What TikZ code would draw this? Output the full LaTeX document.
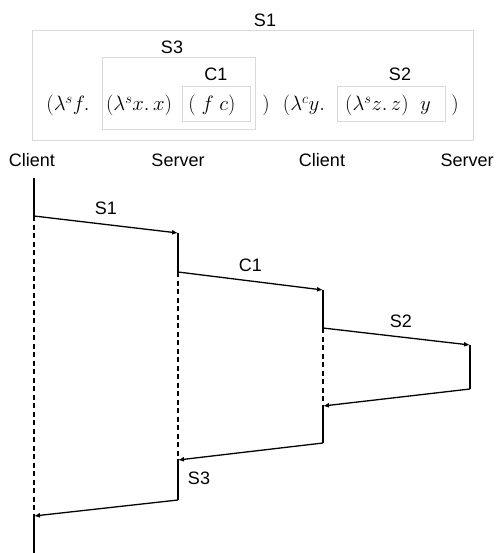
\documentclass[tikz,border=0pt]{standalone}
\usepackage{amsmath}
\usepackage{fontspec}
\setsansfont{Liberation Sans}
\usetikzlibrary{arrows.meta,positioning}
\definecolor{boxgray}{RGB}{217,217,217}

\begin{document}
\begin{tikzpicture}[x=1pt,y=-1pt,
    lbl/.style={font=\sffamily\fontsize{18}{20}\selectfont, inner sep=0pt},
    expr/.style={font=\fontsize{22}{24}\selectfont, inner sep=0pt, anchor=base},
    frame/.style={draw=boxgray, line width=1pt, inner sep=0pt},
    msg/.style={line width=1.3pt, -{Latex[length=6pt,width=5pt]}},
    life/.style={line width=1.3pt},
    wait/.style={line width=1.3pt, dash pattern=on 5pt off 3.5pt}]
    \useasboundingbox (0,0) rectangle (498,553);
    % term with its boxes
    \node[frame, minimum width=441pt, minimum height=110pt] (boxS1) at (252.5,86) {};
    \node[frame, minimum width=153pt, minimum height=72pt] (boxS3) at (178.5,94) {};
    \node[frame, minimum width=68pt, minimum height=35pt] (boxC1) at (216.5,104) {};
    \node[frame, minimum width=108pt, minimum height=35pt] (boxS2) at (391.5,104) {};
    \node[lbl] (tS1) at (265,20) {S1};
    \node[lbl] (tS3) at (172,47) {S3};
    \node[lbl] (tC1) at (216,74) {C1};
    \node[lbl] (tS2) at (400,74) {S2};
    \node[expr] (e1) at (68,111) {$(\lambda^s f.$};
    \node[expr] (e2) at (139,111) {$(\lambda^s x.\,x)$};
    \node[expr] (e3) at (212,111) {$(\;f\;c)$};
    \node[expr] (e4) at (266,111) {$)$};
    \node[expr] (e5) at (304,111) {$(\lambda^c y.$};
    \node[expr] (e6) at (388,111) {$(\lambda^s z.\,z)\;\;y$};
    \node[expr] (e7) at (455,111) {$)$};
    % sequence
    \node[lbl] (cli1) at (32,160) {Client};
    \node[lbl] (srv1) at (178,160) {Server};
    \node[lbl] (cli2) at (322,160) {Client};
    \node[lbl] (srv2) at (467,160) {Server};
    \coordinate (c0) at (34,178);
    \coordinate (c1) at (34,216);
    \coordinate (s1) at (178,233);
    \coordinate (s2) at (178,272);
    \coordinate (d1) at (323,290);
    \coordinate (d2) at (323,328);
    \coordinate (t1) at (470,345);
    \coordinate (t2) at (470,389);
    \coordinate (d3) at (323,406);
    \coordinate (d4) at (323,443);
    \coordinate (s3) at (178,460);
    \coordinate (s4) at (178,500);
    \coordinate (c2) at (34,516);
    \coordinate (c3) at (34,553);
    \draw[life] (c0) -- (c1);
    \draw[msg] (c1) -- (s1) node[lbl, pos=0.5, above=9pt] (mS1) {S1};
    \draw[life] (s1) -- (s2);
    \draw[msg] (s2) -- (d1) node[lbl, pos=0.5, above=9pt] (mC1) {C1};
    \draw[life] (d1) -- (d2);
    \draw[msg] (d2) -- (t1) node[lbl, pos=0.53, above=9pt] (mS2) {S2};
    \draw[life] (t1) -- (t2);
    \draw[msg] (t2) -- (d3);
    \draw[life] (d3) -- (d4);
    \draw[msg] (d4) -- (s3);
    \draw[life] (s3) -- (s4);
    \node[lbl] (mS3) at (199,478) {S3};
    \draw[msg] (s4) -- (c2);
    \draw[life] (c2) -- (c3);
    \draw[wait] (c1) -- (c2);
    \draw[wait] (s2) -- (s3);
    \draw[wait] (d2) -- (d3);
\end{tikzpicture}
\end{document}
